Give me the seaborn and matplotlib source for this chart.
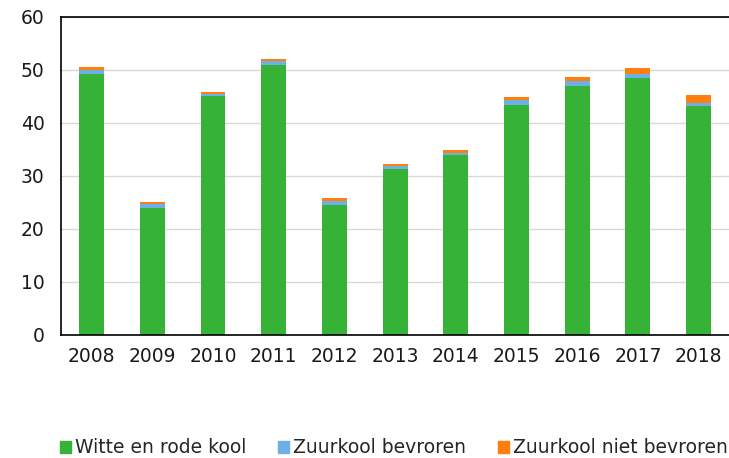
import matplotlib
matplotlib.use("Agg")
import matplotlib.pyplot as plt
import seaborn as sns
import pandas as pd
from matplotlib.patches import Patch

years = ['2008', '2009', '2010', '2011', '2012', '2013', '2014', '2015', '2016', '2017', '2018']
witte_rode = [49.2, 24.0, 45.0, 51.0, 24.5, 31.3, 34.0, 43.3, 47.0, 48.4, 43.1]
zuurkool_bevroren = [0.8, 0.6, 0.4, 0.7, 0.8, 0.5, 0.4, 1.0, 1.0, 0.8, 0.7]
zuurkool_niet = [0.5, 0.4, 0.35, 0.4, 0.5, 0.35, 0.4, 0.6, 0.7, 1.2, 1.4]

df = pd.DataFrame({'jaar': years, 'witte': witte_rode, 'bev': zuurkool_bevroren, 'niet': zuurkool_niet})
df['bottom_niet'] = df['witte'] + df['bev']

green = '#36B236'
blue = '#6DB0E6'
orange = '#FF7F0E'

sns.set_style('white')
plt.rcParams['font.family'] = ['DejaVu Sans']

fig = plt.figure(figsize=(7.29, 4.58), dpi=100)
ax = fig.add_axes([0.084, 0.269, 0.916, 0.694])

w = 0.41
sns.barplot(data=df, x='jaar', y='witte', color=green, width=w, ax=ax, saturation=1, linewidth=0)
sns.barplot(data=df, x='jaar', y='bev', bottom=df['witte'], color=blue, width=w, ax=ax, saturation=1, linewidth=0)
sns.barplot(data=df, x='jaar', y='niet', bottom=df['bottom_niet'], color=orange, width=w, ax=ax, saturation=1, linewidth=0)

ax.set_ylim(0, 60)
ax.set_xlim(-0.5, 10.5)
ax.set_yticks(range(0, 61, 10))
ax.yaxis.grid(True, color='#D9D9D9', linewidth=1)
ax.set_axisbelow(True)
ax.set_xlabel('')
ax.set_ylabel('')
ax.tick_params(axis='both', labelsize=13.5, length=0, colors='#1a1a1a')
ax.tick_params(axis='y', pad=12)
ax.tick_params(axis='x', pad=9)
for s in ['left', 'top', 'bottom']:
    ax.spines[s].set_color('black')
    ax.spines[s].set_linewidth(1.2)
ax.spines['right'].set_visible(False)

handles = [Patch(color=green, label='Witte en rode kool'),
           Patch(color=blue, label='Zuurkool bevroren'),
           Patch(color=orange, label='Zuurkool niet bevroren')]
fig.legend(handles=handles, loc='center', bbox_to_anchor=(0.54, 0.022), ncol=3, frameon=False,
           fontsize=13.5, handlelength=0.6, handleheight=0.6, handletextpad=0.2, columnspacing=1.7)

fig.savefig('out.png', dpi=100)
